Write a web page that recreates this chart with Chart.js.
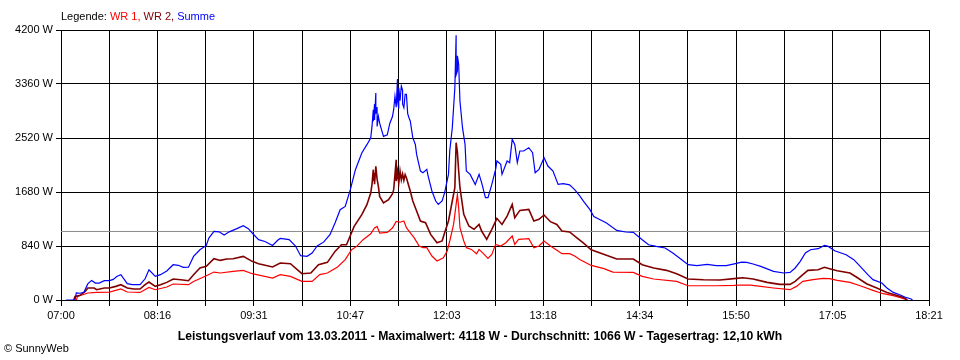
<!DOCTYPE html>
<html>
<head>
<meta charset="utf-8">
<script src="https://cdn.jsdelivr.net/npm/chart.js@4.4.1/dist/chart.umd.min.js"></script>
<style>
  html, body { margin: 0; padding: 0; background: #fff; }
  canvas { display: block; }
</style>
</head>
<body>
<canvas id="leistung" width="960" height="360"></canvas>
<script>
// Achse
const timeLabels = ['07:00', '08:16', '09:31', '10:47', '12:03', '13:18', '14:34', '15:50', '17:05', '18:21'];
const yTicks = [0, 840, 1680, 2520, 3360, 4200];
const avgW = 1066;

// Summe (blau)
const summe = [
  ['07:04', 0], ['07:11', 0], ['07:12', 109], ['07:15', 105], ['07:18', 120], ['07:21', 250], ['07:24', 305],
  ['07:27', 264], ['07:30', 264], ['07:34', 300], ['07:38', 302], ['07:41', 320], ['07:44', 370], ['07:47', 394],
  ['07:52', 254], ['07:56', 238], ['08:02', 240], ['08:06', 330], ['08:09', 471], ['08:14', 367], ['08:18', 394],
  ['08:23', 451], ['08:28', 549], ['08:32', 540], ['08:36', 508], ['08:40', 510], ['08:44', 678], ['08:49', 782],
  ['08:54', 849], ['08:56', 964], ['09:00', 1067], ['09:04', 1060], ['09:08', 1011], ['09:12', 1060], ['09:18', 1110],
  ['09:23', 1156], ['09:27', 1110], ['09:30', 1042], ['09:35', 938], ['09:40', 910], ['09:46', 849], ['09:50', 930],
  ['09:52', 958], ['09:59', 940], ['10:04', 840], ['10:08', 689], ['10:13', 680], ['10:17', 730], ['10:21', 840],
  ['10:26', 900], ['10:31', 1016], ['10:35', 1198], ['10:39', 1405], ['10:43', 1456], ['10:47', 1716], ['10:51', 2027],
  ['10:56', 2286], ['11:00', 2416], ['11:03', 2520], ['11:04', 2700], ['11:05', 2960], ['11:05', 2780], ['11:06', 3050],
  ['11:06', 2800], ['11:07', 3220], ['11:07', 2900], ['11:08', 3000], ['11:08', 2700], ['11:09', 2856], ['11:10', 2750],
  ['11:13', 2546], ['11:16', 2570], ['11:18', 2750], ['11:20', 2850], ['11:21', 2960], ['11:22', 3167], ['11:23', 3000],
  ['11:24', 3437], ['11:24', 3100], ['11:25', 2980], ['11:25', 3300], ['11:26', 3100], ['11:27', 3330], ['11:28', 3261],
  ['11:28', 3050], ['11:29', 2991], ['11:30', 3200], ['11:31', 3198], ['11:32', 2900], ['11:33', 2836], ['11:34', 2784],
  ['11:36', 2525], ['11:38', 2420], ['11:39', 2265], ['11:42', 2006], ['11:44', 1980], ['11:47', 2032], ['11:48', 1929],
  ['11:51', 1696], ['11:54', 1540], ['11:56', 1488], ['11:59', 1540], ['12:01', 1669], ['12:04', 1954], ['12:05', 2318],
  ['12:07', 2680], ['12:09', 3303], ['12:10', 4118], ['12:10', 3500], ['12:11', 3562], ['12:11', 3800], ['12:12', 3665],
  ['12:13', 3095], ['12:15', 2680], ['12:17', 2420], ['12:18', 2006], ['12:21', 1954], ['12:25', 1798], ['12:28', 1954],
  ['12:30', 1825], ['12:33', 1591], ['12:35', 1591], ['12:38', 1798], ['12:41', 2032], ['12:42', 2162], ['12:45', 2110],
  ['12:46', 1954], ['12:50', 2162], ['12:52', 2136], ['12:54', 2499], ['12:56', 2420], ['12:58', 2136], ['13:00', 2318],
  ['13:03', 2318], ['13:07', 2369], ['13:10', 2291], ['13:12', 1980], ['13:15', 2032], ['13:19', 2213], ['13:22', 2084],
  ['13:26', 2006], ['13:30', 1798], ['13:34', 1809], ['13:39', 1790], ['13:43', 1716], ['13:47', 1620], ['13:50', 1534],
  ['13:55', 1405], ['13:58', 1300], ['14:03', 1249], ['14:08', 1198], ['14:16', 1083], ['14:23', 1058], ['14:29', 1053],
  ['14:36', 938], ['14:41', 860], ['14:47', 834], ['14:54', 809], ['15:00', 731], ['15:07', 627], ['15:12', 549],
  ['15:19', 534], ['15:27', 554], ['15:34', 534], ['15:42', 534], ['15:50', 570], ['15:54', 588], ['15:58', 585],
  ['16:03', 560], ['16:09', 523], ['16:19', 445], ['16:27', 420], ['16:32', 430], ['16:36', 498], ['16:40', 601],
  ['16:44', 731], ['16:48', 782], ['16:54', 798], ['16:59', 849], ['17:02', 834], ['17:07', 767], ['17:16', 705],
  ['17:22', 627], ['17:27', 523], ['17:33', 394], ['17:37', 316], ['17:44', 264], ['17:48', 187], ['17:53', 118],
  ['17:58', 82], ['18:02', 47], ['18:07', 15], ['18:08', 0]
];

// WR 2 (dunkelrot)
const wr2 = [
  ['07:10', 0], ['07:11', 56], ['07:15', 72], ['07:19', 134], ['07:21', 187], ['07:26', 187], ['07:28', 160],
  ['07:34', 187], ['07:38', 187], ['07:43', 212], ['07:47', 238], ['07:52', 187], ['07:57', 171], ['08:02', 171],
  ['08:06', 238], ['08:09', 280], ['08:14', 212], ['08:18', 238], ['08:23', 274], ['08:28', 327], ['08:34', 316],
  ['08:40', 300], ['08:44', 394], ['08:49', 498], ['08:54', 523], ['09:00', 642], ['09:05', 616], ['09:10', 638],
  ['09:15', 642], ['09:23', 678], ['09:30', 601], ['09:35', 565], ['09:46', 513], ['09:52', 575], ['10:00', 565],
  ['10:09', 409], ['10:16', 420], ['10:22', 549], ['10:29', 585], ['10:35', 756], ['10:40', 860], ['10:44', 860],
  ['10:50', 1145], ['10:56', 1327], ['11:00', 1482], ['11:03', 1664], ['11:04', 1800], ['11:05', 2027], ['11:05', 1850],
  ['11:06', 1980], ['11:06', 1800], ['11:07', 2078], ['11:08', 1880], ['11:09', 1768], ['11:10', 1612], ['11:13', 1509],
  ['11:17', 1560], ['11:20', 1650], ['11:21', 1716], ['11:23', 2182], ['11:23', 1850], ['11:24', 2000], ['11:25', 1820],
  ['11:26', 2006], ['11:27', 1870], ['11:28', 1960], ['11:29', 1860], ['11:30', 1950], ['11:31', 1902], ['11:34', 1696],
  ['11:36', 1540], ['11:39', 1384], ['11:42', 1229], ['11:46', 1202], ['11:50', 1021], ['11:55', 891], ['11:59', 918],
  ['12:01', 1047], ['12:04', 1229], ['12:07', 1540], ['12:09', 1747], ['12:10', 2447], ['12:11', 2300], ['12:12', 2006],
  ['12:13', 1747], ['12:16', 1332], ['12:20', 1151], ['12:24', 1099], ['12:28', 1176], ['12:30', 1073], ['12:34', 943],
  ['12:38', 1099], ['12:42', 1270], ['12:46', 1176], ['12:50', 1306], ['12:54', 1488], ['12:56', 1280], ['13:00', 1394],
  ['13:07', 1410], ['13:11', 1229], ['13:15', 1254], ['13:19', 1322], ['13:24', 1218], ['13:29', 1176], ['13:33', 1073],
  ['13:39', 1058], ['13:45', 964], ['13:50', 886], ['13:56', 782], ['14:03', 731], ['14:16', 638], ['14:29', 638],
  ['14:36', 549], ['14:45', 498], ['14:55', 461], ['15:03', 409], ['15:12', 327], ['15:24', 316], ['15:37', 311],
  ['15:50', 336], ['15:55', 347], ['16:03', 327], ['16:14', 274], ['16:24', 243], ['16:32', 243], ['16:36', 290],
  ['16:42', 394], ['16:46', 461], ['16:54', 471], ['16:59', 508], ['17:03', 487], ['17:09', 456], ['17:19', 420],
  ['17:24', 358], ['17:32', 254], ['17:40', 187], ['17:48', 118], ['17:54', 82], ['18:01', 41], ['18:04', 0]
];

// WR 1 (rot)
const wr1 = [
  ['07:12', 0], ['07:13', 56], ['07:21', 109], ['07:28', 118], ['07:38', 124], ['07:47', 171], ['07:52', 124],
  ['08:02', 118], ['08:09', 196], ['08:14', 160], ['08:23', 202], ['08:28', 249], ['08:40', 238], ['08:44', 289],
  ['08:54', 378], ['09:00', 435], ['09:05', 420], ['09:15', 445], ['09:23', 461], ['09:30', 409], ['09:46', 342],
  ['09:52', 394], ['10:00', 367], ['10:09', 290], ['10:17', 290], ['10:23', 394], ['10:29', 420], ['10:37', 513],
  ['10:43', 627], ['10:48', 782], ['10:52', 834], ['10:57', 938], ['11:03', 1031], ['11:06', 1120], ['11:08', 1145],
  ['11:10', 1042], ['11:16', 1052], ['11:20', 1120], ['11:23', 1223], ['11:26', 1210], ['11:29', 1229], ['11:31', 1125],
  ['11:33', 1073], ['11:37', 969], ['11:41', 840], ['11:44', 814], ['11:47', 814], ['11:51', 684], ['11:55', 607],
  ['12:00', 658], ['12:03', 762], ['12:05', 918], ['12:08', 1176], ['12:11', 1643], ['12:12', 1436], ['12:13', 1125],
  ['12:16', 918], ['12:18', 814], ['12:22', 787], ['12:26', 720], ['12:28', 787], ['12:32', 710], ['12:35', 648],
  ['12:38', 710], ['12:41', 865], ['12:45', 840], ['12:49', 891], ['12:54', 996], ['12:56', 865], ['12:59', 943],
  ['13:07', 954], ['13:11', 814], ['13:15', 840], ['13:19', 918], ['13:24', 840], ['13:30', 762], ['13:33', 720],
  ['13:39', 720], ['13:43', 684], ['13:47', 630], ['13:56', 538], ['14:06', 487], ['14:13', 435], ['14:29', 430],
  ['14:36', 367], ['14:45', 327], ['15:03', 290], ['15:12', 222], ['15:34', 222], ['15:48', 228], ['15:53', 233],
  ['16:01', 230], ['16:09', 212], ['16:19', 187], ['16:32', 160], ['16:37', 212], ['16:42', 290], ['16:50', 316],
  ['16:58', 336], ['17:03', 331], ['17:09', 305], ['17:19', 274], ['17:27', 222], ['17:37', 150], ['17:45', 98],
  ['17:53', 67], ['17:58', 41], ['18:04', 0]
];

const footerText = 'Leistungsverlauf vom 13.03.2011 - Maximalwert: 4118 W - Durchschnitt: 1066 W - Tagesertrag: 12,10 kWh';

function toMin(hhmm) {
  const p = hhmm.split(':');
  return parseInt(p[0], 10) * 60 + parseInt(p[1], 10);
}

function toPoints(series) {
  return series.map(item => ({ x: toMin(item[0]), y: item[1] }));
}

const startMin = toMin(timeLabels[0]);
const endMin = toMin(timeLabels[timeLabels.length - 1]);
const FONT = "'Liberation Sans', Arial, sans-serif";

// Legende oben und Text unten
const textPlugin = {
  id: 'texte',
  afterDraw(chart) {
    const ctx = chart.ctx;
    ctx.save();
    ctx.textBaseline = 'middle';
    ctx.textAlign = 'left';
    ctx.font = '11px ' + FONT;
    const parts = [['Legende: ', '#000000'], ['WR 1, ', '#ff0000'], ['WR 2, ', '#800000'], ['Summe', '#0000ff']];
    let x = 61;
    parts.forEach(p => {
      ctx.fillStyle = p[1];
      ctx.fillText(p[0], x, 17);
      x += ctx.measureText(p[0]).width;
    });

    ctx.fillStyle = '#000';
    ctx.font = 'bold 12.2px ' + FONT;
    ctx.textAlign = 'center';
    ctx.fillText(footerText, 480, 337);

    ctx.textAlign = 'left';
    ctx.font = '11px ' + FONT;
    ctx.fillText('\u00A9 SunnyWeb', 4, 349);
    ctx.restore();
  }
};

const ctx = document.getElementById('leistung').getContext('2d');
new Chart(ctx, {
  type: 'line',
  data: {
    datasets: [
      { label: 'Summe', data: toPoints(summe), borderColor: '#0000ff', borderWidth: 1.2, order: 1 },
      { label: 'WR 2', data: toPoints(wr2), borderColor: '#800000', borderWidth: 1.6, order: 2 },
      { label: 'WR 1', data: toPoints(wr1), borderColor: '#ff0000', borderWidth: 1.2, order: 3 },
      {
        label: 'Durchschnitt',
        data: [{ x: startMin, y: avgW }, { x: endMin, y: avgW }],
        borderColor: '#8c8c8c', borderWidth: 1, order: 10
      }
    ]
  },
  options: {
    responsive: false,
    animation: false,
    events: [],
    layout: { padding: { left: 0, right: 31, top: 30, bottom: 30 } },
    elements: { point: { radius: 0 }, line: { tension: 0 } },
    plugins: { legend: { display: false }, tooltip: { enabled: false } },
    scales: {
      x: {
        type: 'linear',
        min: startMin,
        max: endMin,
        afterBuildTicks: scale => {
          const ticks = [];
          for (let i = 0; i <= 18; i++) ticks.push({ value: startMin + i * (endMin - startMin) / 18 });
          scale.ticks = ticks;
        },
        afterFit: scale => { scale.height = 30; },
        grid: { color: '#000', lineWidth: 1, tickLength: 6 },
        border: { color: '#000' },
        ticks: {
          autoSkip: false,
          maxRotation: 0,
          color: '#000',
          padding: 3,
          font: { family: FONT, size: 11 },
          callback: (v, i) => (i % 2 === 0 ? timeLabels[i / 2] : '')
        }
      },
      y: {
        min: 0,
        max: 4200,
        afterBuildTicks: scale => { scale.ticks = yTicks.map(v => ({ value: v })); },
        afterFit: scale => { scale.width = 61; },
        grid: { color: '#000', lineWidth: 1, tickLength: 5 },
        border: { color: '#000' },
        ticks: {
          color: '#000',
          padding: 3,
          font: { family: FONT, size: 11 },
          callback: v => v + ' W'
        }
      }
    }
  },
  plugins: [textPlugin]
});
</script>
</body>
</html>
